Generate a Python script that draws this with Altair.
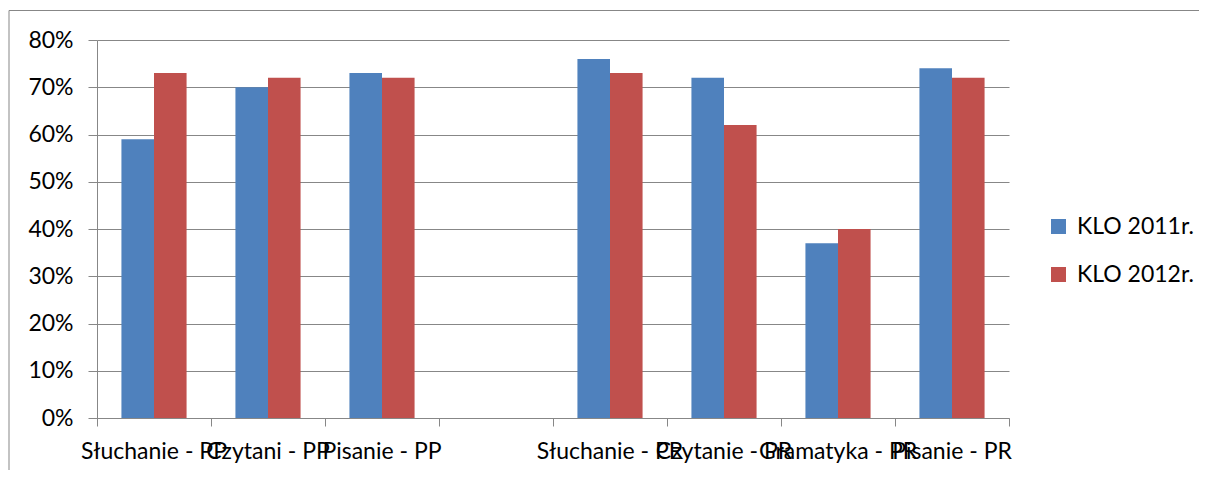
import altair as alt
import pandas as pd

categories = ["Słuchanie - PP", "Czytani - PP", "Pisanie - PP", " ",
              "Słuchanie - PR", "Czytanie - PR", "Gramatyka - PR", "Pisanie - PR"]
series = ["KLO 2011r.", "KLO 2012r."]
values_2011 = [59, 70, 73, None, 76, 72, 37, 74]
values_2012 = [73, 72, 72, None, 73, 62, 40, 72]
colors = ["#4F81BD", "#C0504D"]
y_ticks = [0, 10, 20, 30, 40, 50, 60, 70, 80]

rows = []
for cat, a, b in zip(categories, values_2011, values_2012):
    if a is not None:
        rows.append({"cat": cat, "series": series[0], "value": a})
    if b is not None:
        rows.append({"cat": cat, "series": series[1], "value": b})
df = pd.DataFrame(rows)

FONT = "Lato"
GRAY = "#878787"
W, H = 912, 378

bars = alt.Chart(df).mark_bar().encode(
    x=alt.X("cat:N", sort=categories,
            scale=alt.Scale(domain=categories, paddingInner=0, paddingOuter=0),
            axis=alt.Axis(title=None, grid=False, ticks=True, tickSize=8,
                          bandPosition=1, tickExtra=True, labelOffset=0,
                          labelPadding=14, labelOverlap=False, labelBound=False,
                          labelFlush=False, labelLimit=0, labelAngle=0)),
    xOffset=alt.XOffset("series:N", sort=series,
                        scale=alt.Scale(domain=series, paddingOuter=0.75, paddingInner=0)),
    y=alt.Y("value:Q", scale=alt.Scale(domain=[0, 80], nice=False),
            axis=alt.Axis(title=None, values=y_ticks, labelExpr="datum.value + '%'",
                          grid=True, tickSize=9, labelPadding=15)),
    color=alt.Color("series:N", sort=series,
                    scale=alt.Scale(domain=series, range=colors),
                    legend=alt.Legend(title=None, orient="none", legendX=950, legendY=175,
                                      symbolType="square", symbolSize=225,
                                      symbolStrokeWidth=0, labelFontSize=23,
                                      labelFont=FONT, labelOffset=7, rowPadding=24,
                                      padding=0)),
)

border_top = alt.Chart(alt.Data(values=[{}])).mark_rule(color=GRAY, strokeWidth=1).encode(
    x=alt.value(-88), x2=alt.value(1120), y=alt.value(-29.5))
border_left = alt.Chart(alt.Data(values=[{}])).mark_rule(color=GRAY, strokeWidth=1).encode(
    x=alt.value(-88), y=alt.value(-29.5), y2=alt.value(440))

chart = alt.layer(bars, border_top, border_left).properties(
    width=W, height=H,
    autosize=alt.AutoSizeParams(type="none"),
    padding={"left": 89, "top": 32, "right": 190, "bottom": 52},
).configure_view(stroke=None).configure_axis(
    domainColor=GRAY, tickColor=GRAY, gridColor=GRAY, labelColor="black",
    labelFont=FONT, labelFontSize=23, domainWidth=1, tickWidth=1, gridWidth=1,
).configure_legend(labelColor="black")

chart.save("out.html", embed_options={"renderer": "svg", "actions": False})
